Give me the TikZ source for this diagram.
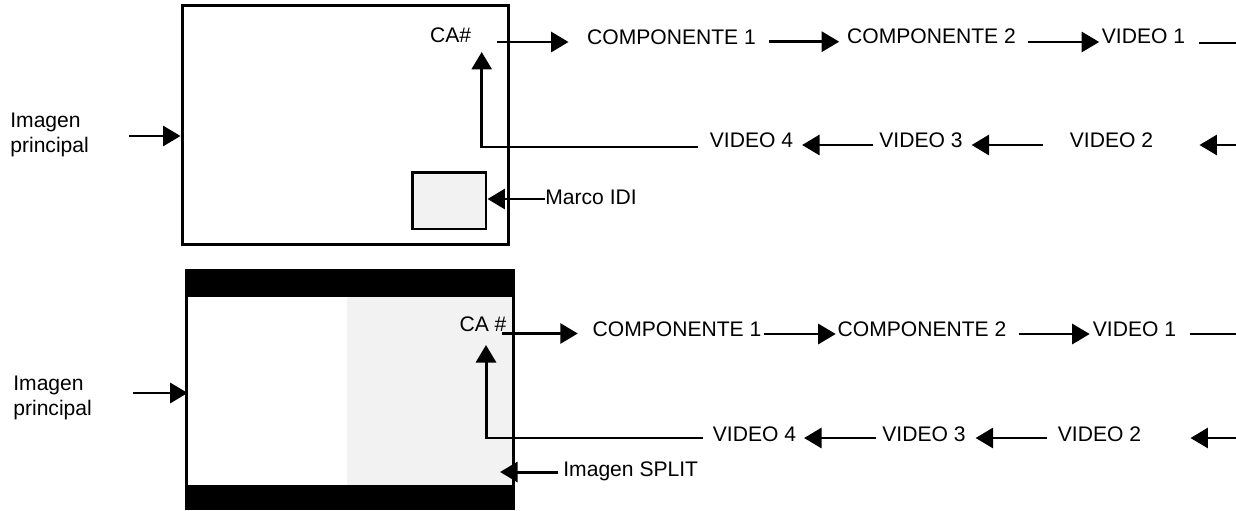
\documentclass[tikz,border=0pt]{standalone}
\usepackage{fontspec}
\setmainfont{Liberation Sans}
\usetikzlibrary{arrows.meta,calc}
\definecolor{lg}{HTML}{F2F2F2}
\begin{document}
\begin{tikzpicture}[x=0.02cm,y=-0.02cm,
  lbl/.style={inner sep=0pt,font=\fontsize{12}{14.5}\selectfont,text height=8.6pt,text depth=0pt},
  lbl2/.style={inner sep=0pt,font=\fontsize{12}{14.5}\selectfont,align=left},
  ln/.style={line width=1.7pt},
  arr/.style={line width=1.7pt,-{Triangle[length=0.35cm,width=0.4cm]}},
  frame/.style={draw,line width=1.7pt,inner sep=0pt}]
\useasboundingbox (0,0) rectangle (1236,510);
% ---------- top panel ----------
\node[frame,minimum width=6.54cm,minimum height=4.8cm] (box1) at (345.5,125) {};
\node[frame,fill=lg,minimum width=1.48cm,minimum height=1.14cm] (idi) at (449,200.5) {};
\node[lbl] (ca1) at (450.7,35) {CA\#};
\node[lbl] (c1) at (671.5,36.7) {COMPONENTE 1};
\node[lbl] (c2) at (931.5,36) {COMPONENTE 2};
\node[lbl] (v1) at (1143.5,36) {VIDEO 1};
\node[lbl] (v4) at (751.5,140) {VIDEO 4};
\node[lbl] (v3) at (921,140) {VIDEO 3};
\node[lbl] (v2) at (1111.5,140) {VIDEO 2};
\node[lbl,anchor=west] (mi) at (545,197) {Marco IDI};
\node[lbl2,anchor=west] (ip1) at (10,135) {Imagen\\principal};
\draw[arr] ($(ca1.east)+(25,7)$) -- ++(72,0);
\draw[arr] ($(c1.east)+(13,5)$) -- ++(70,0);
\draw[arr] ($(c2.east)+(12,6)$) -- ++(71,0);
\draw[ln] ($(v1.east)+(14,7)$) -- ++(60,0);
\draw[arr] ($(v2.east)+(83,5)$) -- ++(-37,0);
\draw[arr] ($(v2.west)+(-27,5)$) -- ++(-71,0);
\draw[arr] ($(v3.west)+(-6,5)$) -- ++(-71,0);
\draw[arr] ($(v4.west)+(-12,7)$) -| ($(ca1.center)+(31,17)$);
\draw[arr] ($(mi.west)+(0,2)$) coordinate (q) -- (q -| idi.east);
\draw[arr] ($(ip1.east)+(40,1)$) coordinate (r) -- (r -| box1.west);
% ---------- bottom panel ----------
\node[fill=black,inner sep=0pt,minimum width=6.6cm,minimum height=4.82cm] (box2) at (350,389.5) {};
\node[fill=white,inner sep=0pt,minimum width=3.18cm,minimum height=3.76cm] (wbox) at (267.5,391) {};
\node[fill=lg,inner sep=0pt,minimum width=3.3cm,minimum height=3.76cm] (gbox) at (429.5,391) {};
\node[lbl] (ca2) at (483,323.5) {CA \#};
\node[lbl] (c1b) at (677,329) {COMPONENTE 1};
\node[lbl] (c2b) at (922,329) {COMPONENTE 2};
\node[lbl] (v1b) at (1134.5,329) {VIDEO 1};
\node[lbl] (v4b) at (754.5,434) {VIDEO 4};
\node[lbl] (v3b) at (924,434) {VIDEO 3};
\node[lbl] (v2b) at (1099.5,434) {VIDEO 2};
\node[lbl,anchor=west] (isp) at (563,469) {Imagen SPLIT};
\node[lbl2,anchor=west] (ip2) at (13,398) {Imagen\\principal};
\draw[arr] ($(ca2.east)+(-5,10)$) -- ++(76,0);
\draw[arr] ($(c1b.east)+(2,5)$) -- ++(72,0);
\draw[arr] ($(c2b.east)+(12,5)$) -- ++(71,0);
\draw[ln] ($(v1b.east)+(14,5)$) -- ++(60,0);
\draw[arr] ($(v2b.east)+(95,4)$) -- ++(-46,0);
\draw[arr] ($(v2b.west)+(-11,4)$) -- ++(-71,0);
\draw[arr] ($(v3b.west)+(-6,4)$) -- ++(-72,0);
\draw[arr] ($(v4b.west)+(-10,4)$) -| ($(ca2.center)+(3,21.5)$);
\draw[arr] ($(isp.west)+(-5,3)$) -- ++(-58,0);
\draw[arr] ($(ip2.east)+(41,-5)$) coordinate (s) -- (s -| wbox.west);
\end{tikzpicture}
\end{document}
